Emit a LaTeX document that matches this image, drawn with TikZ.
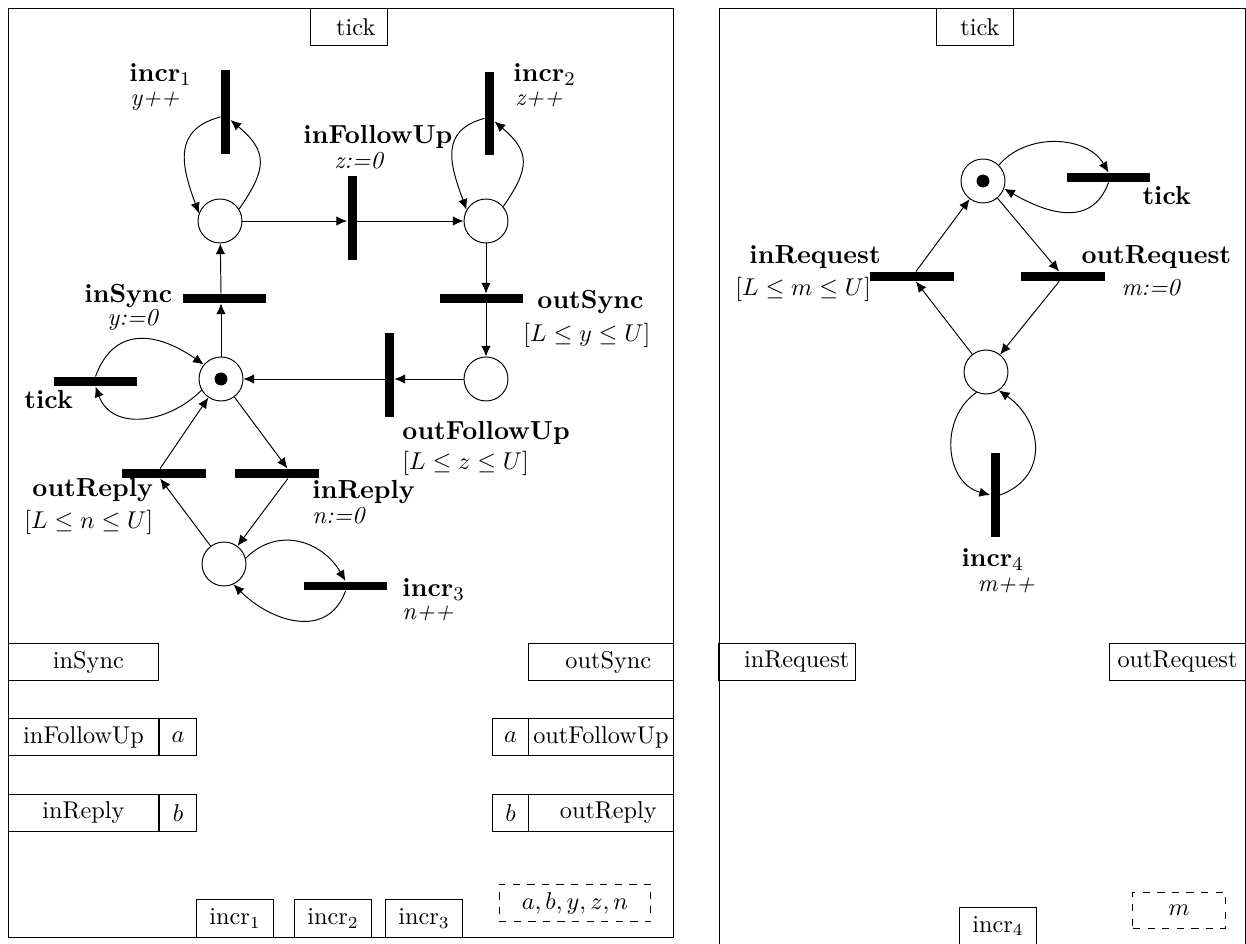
\documentclass[tikz,border=0pt]{standalone}
\usepackage{tikz}
\usetikzlibrary{arrows.meta}

\begin{document}
\begin{tikzpicture}[x=0.4115pt, y=-0.4115pt,
    plc/.style={circle, draw, minimum size=18.1pt, inner sep=0pt},
    tok/.style={circle, fill=black, minimum size=5.3pt, inner sep=0pt},
    hbar/.style={rectangle, fill=black, minimum width=34.2pt, minimum height=3.7pt, inner sep=0pt},
    vbar/.style={rectangle, fill=black, minimum width=3.7pt, minimum height=34.2pt, inner sep=0pt},
    tname/.style={anchor=west, inner sep=0pt, font=\fontsize{10.75}{13}\selectfont\bfseries},
    tact/.style={anchor=west, inner sep=0pt, font=\itshape},
    tguard/.style={anchor=west, inner sep=0pt},
    port/.style={rectangle, draw, minimum height=15.6pt, inner sep=0pt},
    vars/.style={port, dashed},
    arc/.style={-{Latex[length=4.4pt,width=3.9pt]}}]
    \useasboundingbox (0,0) rectangle (1246,944);
    \draw (8,8) rectangle (673,937);
    \draw (719,8) rectangle (1245,950);

    % first net
    \node[port, minimum width=31.7pt] (tickAp) at (348.5,27) {\hspace{6pt}tick};
    \node[plc] (p0) at (221,379) {};
    \node[tok] (p0t) at (p0) {};
    \node[plc] (p1) at (220,221) {};
    \node[plc] (p2) at (486,221) {};
    \node[plc] (p3) at (486,379) {};
    \node[plc] (p4) at (224,564) {};

    \node[vbar] (incrA) at (225.5,112) {};
    \node[vbar] (inFU)  at (352,218) {};
    \node[vbar] (incrB) at (489.5,113.5) {};
    \node[hbar] (inS)   at (224.5,298.5) {};
    \node[hbar] (outS)  at (481.5,298.5) {};
    \node[vbar] (outFU) at (389.5,375) {};
    \node[hbar] (tickA) at (95.5,381.5) {};
    \node[hbar] (outR)  at (164,473.5) {};
    \node[hbar] (inR)   at (277,473.5) {};
    \node[hbar] (incrC) at (345.5,586) {};

    \node[tname]  (incrAn) at (129,75) {incr$_1$};
    \node[tact]   (incrAa) at (130,101) {y++};
    \node[tname]  (inFUn)  at (303,137) {inFollowUp};
    \node[tact]   (inFUa)  at (334,161) {z:=0};
    \node[tname]  (incrBn) at (513,75) {incr$_2$};
    \node[tact]   (incrBa) at (515,99) {z++};
    \node[tname]  (inSn)   at (84,296) {inSync};
    \node[tact]   (inSa)   at (107,320) {y:=0};
    \node[tname]  (outSn)  at (537,302) {outSync};
    \node[tguard] (outSg)  at (523,335) {$[L \leq y \leq U]$};
    \node[tname]  (tickAn) at (24,400) {tick};
    \node[tname]  (outFUn) at (402,433) {outFollowUp};
    \node[tguard] (outFUg) at (402,463) {$[L \leq z \leq U]$};
    \node[tname]  (outRn)  at (32,490) {outReply};
    \node[tguard] (outRg)  at (24,522) {$[L \leq n \leq U]$};
    \node[tname]  (inRn)   at (312,492) {inReply};
    \node[tact]   (inRa)   at (312,516) {n:=0};
    \node[tname]  (incrCn) at (402,590) {incr$_3$};
    \node[tact]   (incrCa) at (402,613) {n++};

    \draw[arc] ([yshift=-2pt]incrA.west) to[out=195, in=110, looseness=1.3] (p1.160);
    \draw[arc] (p1.32) to[out=55, in=-40, looseness=1.4] ([yshift=-3.3pt]incrA.east);
    \draw[arc] (p1) -- (p1 -| inFU.west);
    \draw[arc] (p1 -| inFU.east) -- (p2);
    \draw[arc] ([yshift=-2pt]incrB.west) to[out=195, in=110, looseness=1.3] (p2.150);
    \draw[arc] (p2.40) to[out=55, in=-40, looseness=1.4] ([yshift=-3.3pt]incrB.east);
    \draw[arc] (p2) -- (p2 |- outS.north);
    \draw[arc] (p2 |- outS.south) -- (p3);
    \draw[arc] (p3) -- (p3 -| outFU.east);
    \draw[arc] (p3 -| outFU.west) -- (p0);
    \draw[arc] (p0) -- (p0 |- inS.south);
    \draw[arc] (p0 |- inS.north) -- (p1);
    \draw[arc] (tickA.north) to[out=70, in=145, looseness=1.3] (p0.140);
    \draw[arc] (p0.-150) to[out=-135, in=-70, looseness=1.15] (tickA.south);
    \draw[arc] (p0) -- ([xshift=4.3pt]inR.north);
    \draw[arc] ([xshift=4.5pt]inR.south) -- (p4);
    \draw[arc] (p4) -- ([xshift=-1.6pt]outR.south);
    \draw[arc] ([xshift=-1.6pt]outR.north) -- (p0);
    \draw[arc] (p4.15) to[out=45, in=120, looseness=1.15] (incrC.north);
    \draw[arc] (incrC.south) to[out=-110, in=-45, looseness=1.2] (p4.-65);

    \node[port, minimum width=62.1pt] (inSp)   at (83.5,662) {\hspace{4pt}inSync};
    \node[port, minimum width=59.3pt] (outSp)  at (601,662) {\hspace{6pt}outSync};
    \node[port, minimum width=62.1pt] (inFUp)  at (83.5,737) {inFollowUp};
    \node[port, minimum width=15.6pt] (inFUv)  at (178,737) {$a$};
    \node[port, minimum width=15.2pt] (outFUv) at (510.5,737) {$a$};
    \node[port, minimum width=59.3pt] (outFUp) at (601,737) {outFollowUp};
    \node[port, minimum width=62.1pt] (inRp)   at (83.5,813) {inReply};
    \node[port, minimum width=15.6pt] (inRv)   at (178,813) {$b$};
    \node[port, minimum width=15.2pt] (outRv)  at (510.5,813) {$b$};
    \node[port, minimum width=59.3pt] (outRp)  at (601,813) {\hspace{6pt}outReply};
    \node[port, minimum width=31.3pt] (incrAp) at (235,918.5) {incr$_1$};
    \node[port, minimum width=31.3pt] (incrBp) at (333,918.5) {incr$_2$};
    \node[port, minimum width=31.3pt] (incrCp) at (424,918.5) {incr$_3$};
    \node[vars, minimum width=62.5pt] (varsA)  at (575,903) {$a, b, y, z, n$};

    % second net
    \node[port, minimum width=31.3pt] (tickBp) at (975,27) {\hspace{4pt}tick};
    \node[plc] (q0) at (983,181) {};
    \node[tok] (q0t) at (q0) {};
    \node[plc] (q1) at (986,372) {};

    \node[hbar] (tickB) at (1108.5,177.5) {};
    \node[hbar] (inRq)  at (912,276.5) {};
    \node[hbar] (outRq) at (1063,276.5) {};
    \node[vbar] (incrD) at (995,495) {};

    \node[tname]  (tickBn) at (1142,196) {tick};
    \node[tname]  (inRqn)  at (749,257) {inRequest};
    \node[tguard] (inRqg)  at (735,289) {$[L \leq m \leq U]$};
    \node[tname]  (outRqn) at (1081,257) {outRequest};
    \node[tact]   (outRqa) at (1121,288) {m:=0};
    \node[tname]  (incrDn) at (961,560) {incr$_4$};
    \node[tact]   (incrDa) at (977,585) {m++};

    \draw[arc] ([xshift=1.6pt]inRq.north) -- (q0);
    \draw[arc] (q0) -- ([xshift=-1.6pt]outRq.north);
    \draw[arc] (q1) -- ([xshift=1.6pt]inRq.south);
    \draw[arc] ([xshift=-1.6pt]outRq.south) -- (q1);
    \draw[arc] (q0.45) to[out=50, in=120] (tickB.north);
    \draw[arc] (tickB.south) to[out=-110, in=-30, looseness=1.2] (q0.-20);
    \draw[arc] (q1.-115) to[out=-145, in=165, looseness=1.15] (incrD.west);
    \draw[arc] (incrD.east) to[out=20, in=-35, looseness=1.3] (q1.-55);

    \node[port, minimum width=56pt]   (inRqp)  at (787,662) {\hspace{8pt}inRequest};
    \node[port, minimum width=55.6pt] (outRqp) at (1177.5,662) {outRequest};
    \node[port, minimum width=31.3pt] (incrDp) at (998,926) {incr$_4$};
    \node[vars, minimum width=37.9pt, minimum height=15.2pt] (varsB) at (1179,910.5) {$m$};
\end{tikzpicture}
\end{document}
